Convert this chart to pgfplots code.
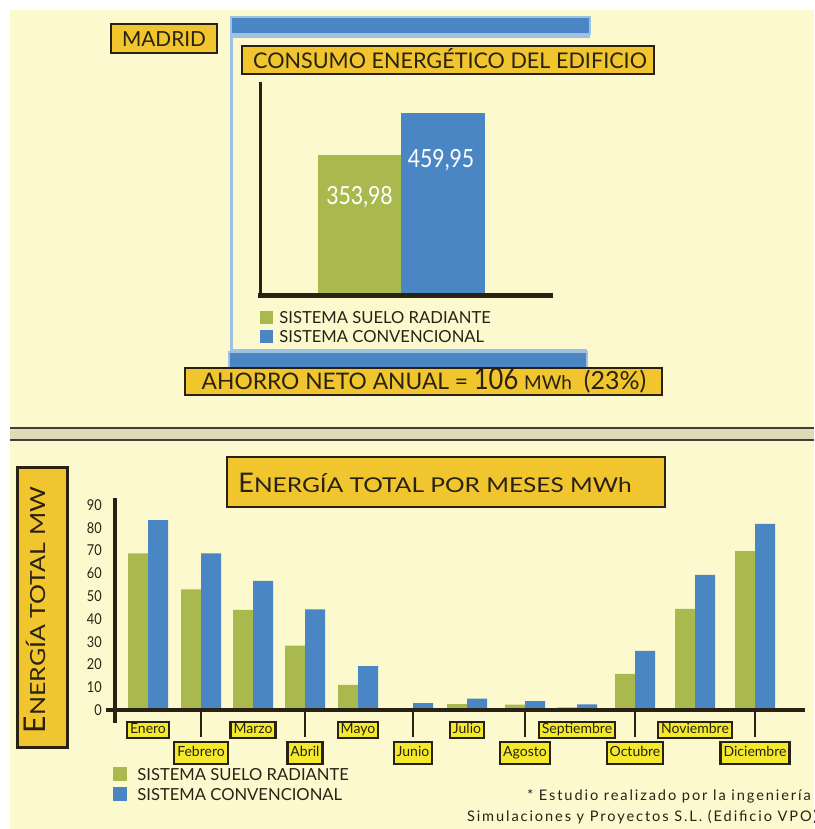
\documentclass[border=0pt]{standalone}
\usepackage{fontspec}
\setmainfont{Lato}
\newfontfamily\cond[FakeStretch=0.85]{Lato}
\newfontfamily\wide[FakeStretch=1.2]{Lato}
\newfontfamily\footfont[LetterSpace=13]{Lato}
\usepackage{pgfplots}
\usepackage{pgfplotstable}
\pgfplotsset{compat=1.18}

\definecolor{fondo}{RGB}{253,249,206}
\definecolor{oro}{RGB}{241,197,45}
\definecolor{limon}{RGB}{244,234,45}
\definecolor{verde}{RGB}{170,185,78}
\definecolor{azul}{RGB}{74,134,196}
\definecolor{azulclaro}{RGB}{160,192,226}
\definecolor{tinta}{RGB}{40,33,20}

% monthly energy (MWh); pos = centre of each month group along the axis
\pgfplotstableread{
pos  suelo  conv
148  68.7   83.3
201  52.9   68.7
253  43.9   56.6
305  28.2   44.2
358  11.0   19.3
413   0.8    3.0
467   2.6    5.0
525   2.4    3.9
577   1.2    2.5
635  15.9   25.9
695  44.4   59.3
755  69.7   81.7
}\meses

\tikzset{
  caja/.style={draw=tinta, line width=1.1pt, fill=oro},
  mes/.style={draw=tinta, line width=1.1pt, fill=limon, text=tinta,
    font=\fontsize{7}{8}\selectfont, inner xsep=1.5pt,
    text height=5pt, text depth=1.2pt, anchor=north}
}

\begin{document}
\begin{tikzpicture}
% page: 814 x 829 units of 0.5pt, origin at the top-left corner
\clip (0pt,0pt) rectangle (407pt,-414.5pt);
\begin{scope}[x=0.5pt,y=-0.5pt]
\fill[white] (0,0) rectangle (814,829);
\fill[fondo] (10,10) rectangle (814,829);

% ---------- upper panel: frame ----------
\draw[azulclaro, line width=1.5pt] (590,37) -- (231,37) -- (231,350) -- (587,350);
\fill[azul, draw=azulclaro, line width=0.6pt] (231,17) rectangle (590,34);
\fill[azul, draw=azulclaro, line width=0.6pt] (229,352) rectangle (587,368);

\draw[caja] (111,24) rectangle (217,53);
\node[anchor=base, text=tinta, font=\fontsize{10.4}{12}\selectfont] at (164,46.7) {MADRID};

\draw[caja] (242,46) rectangle (654,74);
\node[anchor=base, text=tinta, font=\fontsize{10.8}{12}\selectfont] at (450,68.3) {CONSUMO ENERGÉTICO DEL EDIFICIO};

\draw[caja] (185,368) rectangle (662,395);
\node[anchor=base, text=tinta, font=\fontsize{11.4}{12}\selectfont] at (424,389.3)
  {AHORRO NETO ANUAL = {\cond\fontsize{15}{15}\selectfont 106} {\fontsize{9.5}{9}\selectfont MWh}\hspace{6pt}{\fontsize{12.5}{13}\selectfont (23\%)}};

% separator between panels
\fill[fondo!88!black] (10,429) rectangle (814,439);
\draw[black!75, line width=1.2pt] (10,428) -- (814,428);
\draw[black!75, line width=1.2pt] (10,440) -- (814,440);

% ---------- lower panel: headings ----------
\draw[caja] (227,457) rectangle (665,507);
\node[anchor=base, text=tinta] at (435,492)
  {{\fontsize{13.5}{14}\selectfont E}{\wide\fontsize{10.2}{12}\selectfont NERGÍA TOTAL POR MESES MW}{\wide\fontsize{10.2}{12}\selectfont h}};

\draw[caja, line width=1.5pt] (17,467) rectangle (67,747);
\node[anchor=base, rotate=90, text=tinta] at (45,610)
  {{\fontsize{15}{15}\selectfont E}{\wide\fontsize{10.4}{12}\selectfont NERGÍA TOTAL MW}};

% footnote
\node[anchor=base west, text=tinta, font=\footfont\fontsize{7.3}{8}\selectfont] at (520,800.5)
  {* Estudio realizado por la ingeniería};
\node[anchor=base west, text=tinta, font=\footfont\fontsize{7.3}{8}\selectfont] at (460,821.5)
  {Simulaciones y Proyectos S.L. (Edificio VPO)};
\end{scope}

% ---------- upper chart: annual consumption ----------
\begin{axis}[
  at={(130pt,-147.5pt)}, anchor=south west, scale only axis,
  width=146.5pt, height=106.5pt,
  xmin=260, xmax=553, ymin=0, ymax=538,
  hide axis, clip=false,
  /pgf/number format/assume math mode=true,
  legend style={at={(0,0)}, anchor=north west, yshift=-7pt, draw=none, fill=none,
    inner sep=0pt, font=\fontsize{8.3}{9}\selectfont, text=tinta, row sep=1.5pt,
    nodes={inner sep=1pt, text height=6pt, text depth=0pt},
    /tikz/every odd column/.append style={column sep=2pt}},
  legend cell align=left,
  legend image code/.code={\fill[#1] (0pt,-3.25pt) rectangle (6.5pt,3.25pt);},
  nodes near coords={\pgfmathprintnumber[fixed,fixed zerofill,precision=2,use comma]{\pgfplotspointmeta}},
]
\addplot[ybar, bar shift=0pt, bar width=83, fill=verde, draw=none,
  every node near coord/.append style={anchor=center, yshift=-21pt, text=white,
    font=\cond\fontsize{12.5}{13}\selectfont}]
  coordinates {(359.5,353.98)};
\addplot[ybar, bar shift=0pt, bar width=84, fill=azul, draw=none,
  every node near coord/.append style={anchor=center, yshift=-23.5pt, xshift=-1pt, text=white,
    font=\cond\fontsize{12.5}{13}\selectfont}]
  coordinates {(443,459.95)};
\legend{SISTEMA SUELO RADIANTE, SISTEMA CONVENCIONAL}
\draw[tinta, line width=1.5pt] (axis cs:260,538) -- (axis cs:260,-5);
\draw[tinta, line width=2.5pt] (axis cs:258,0) -- (axis cs:553,0);
\end{axis}

% ---------- lower chart: energy per month ----------
\begin{axis}[
  at={(57.5pt,-355pt)}, anchor=south west, scale only axis,
  width=345pt, height=106pt,
  xmin=115, xmax=805, ymin=0, ymax=93,
  axis lines=left, axis line style={draw=none}, clip=false,
  tick style={draw=none},
  /pgf/number format/assume math mode=true,
  ytick={0,10,...,90},
  yticklabel style={font=\cond\fontsize{7.5}{8}\selectfont, text=tinta, xshift=-1pt},
  xtick={148,201,253,305,358,413,467,525,577,635,695,755},
  xticklabels={Enero,Febrero,Marzo,Abril,Mayo,Junio,Julio,Agosto,Septiembre,Octubre,Noviembre,Diciembre},
  % months alternate between an upper and a lower row of labels
  xticklabel style={mes, yshift={-3.5pt-10pt*mod(\ticknum,2)},
    inner ysep={0.8pt+1.5pt*mod(\ticknum,2)}},
  legend style={at={(0,0)}, anchor=north west, xshift=-1pt, yshift=-28pt, draw=none, fill=none,
    inner sep=0pt, font=\fontsize{8.3}{9}\selectfont, text=tinta, row sep=2pt,
    nodes={inner sep=1pt, text height=6pt, text depth=0pt},
    /tikz/every odd column/.append style={column sep=4pt}},
  legend cell align=left,
  legend image code/.code={\fill[#1] (0pt,-3.5pt) rectangle (7pt,3.5pt);},
]
\addplot[ybar, bar width=20, bar shift=-10, fill=verde, draw=none] table[x=pos, y=suelo] {\meses};
\addplot[ybar, bar width=20, bar shift=10, fill=azul, draw=none] table[x=pos, y=conv] {\meses};
\legend{SISTEMA SUELO RADIANTE, SISTEMA CONVENCIONAL}
\draw[tinta, line width=1.8pt] (axis cs:115,93) -- (axis cs:115,-5.7);
\draw[tinta, line width=2pt] (axis cs:106,0) -- (axis cs:805,0);
% connectors from the axis down to the lower row of month labels
\pgfplotsinvokeforeach{201,305,413,525,635,755}{
  \draw[tinta, line width=1.3pt] (axis cs:#1,0) -- ([yshift=-13.5pt]axis cs:#1,0);
}
\end{axis}
\end{tikzpicture}
\end{document}
